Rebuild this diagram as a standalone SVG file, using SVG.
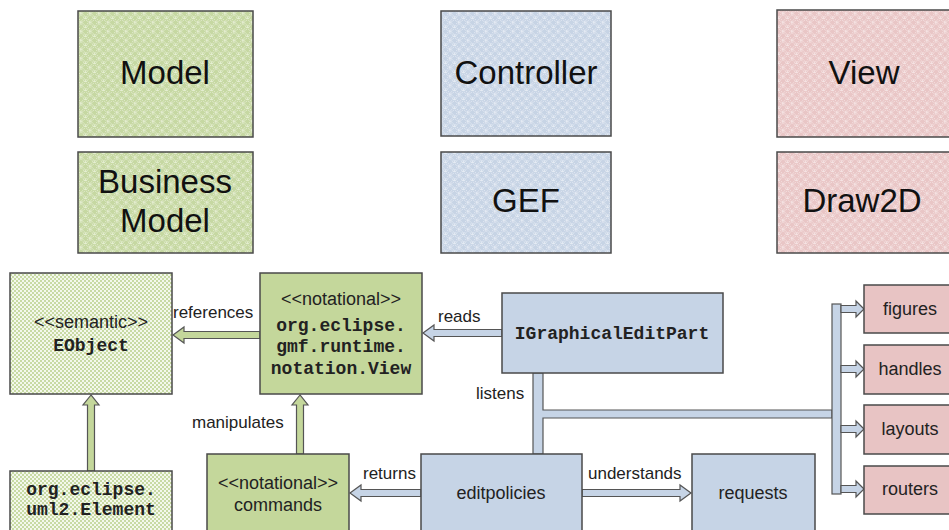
<svg xmlns="http://www.w3.org/2000/svg" width="949" height="530" viewBox="0 0 949 530">
  <defs>
    <!-- lattice fills for the layer boxes -->
    <pattern id="latGreen" width="9" height="9" patternUnits="userSpaceOnUse">
      <rect width="9" height="9" fill="#c6d8a2"/>
      <g fill="none" stroke="#eef4e2" stroke-width="0.9" stroke-dasharray="1 1">
        <circle cx="4.5" cy="4.5" r="4.2"/>
        <circle cx="0" cy="0" r="4.2"/>
        <circle cx="9" cy="0" r="4.2"/>
        <circle cx="0" cy="9" r="4.2"/>
        <circle cx="9" cy="9" r="4.2"/>
      </g>
    </pattern>
    <pattern id="latBlue" width="9" height="9" patternUnits="userSpaceOnUse">
      <rect width="9" height="9" fill="#c7d4e5"/>
      <g fill="none" stroke="#eef2f8" stroke-width="0.9" stroke-dasharray="1 1">
        <circle cx="4.5" cy="4.5" r="4.2"/>
        <circle cx="0" cy="0" r="4.2"/>
        <circle cx="9" cy="0" r="4.2"/>
        <circle cx="0" cy="9" r="4.2"/>
        <circle cx="9" cy="9" r="4.2"/>
      </g>
    </pattern>
    <pattern id="latPink" width="9" height="9" patternUnits="userSpaceOnUse">
      <rect width="9" height="9" fill="#e9c6c6"/>
      <g fill="none" stroke="#f8ecec" stroke-width="0.9" stroke-dasharray="1 1">
        <circle cx="4.5" cy="4.5" r="4.2"/>
        <circle cx="0" cy="0" r="4.2"/>
        <circle cx="9" cy="0" r="4.2"/>
        <circle cx="0" cy="9" r="4.2"/>
        <circle cx="9" cy="9" r="4.2"/>
      </g>
    </pattern>
    <!-- fine checker for semantic model boxes -->
    <pattern id="checkGreen" width="4" height="4" patternUnits="userSpaceOnUse">
      <rect width="4" height="4" fill="#f4f8ec"/>
      <rect width="2" height="2" fill="#c8daa4"/>
      <rect x="2" y="2" width="2" height="2" fill="#c8daa4"/>
    </pattern>
    <style>
      .box { stroke: #4a4a4a; stroke-width: 1.5; }
      .lg { fill: url(#latGreen); }
      .lb { fill: url(#latBlue); }
      .lp { fill: url(#latPink); }
      .ck { fill: url(#checkGreen); }
      .g { fill: #c4d79b; }
      .b { fill: #c6d4e6; }
      .p { fill: #e8c4c4; }
      .big { font-family: "Liberation Sans", Arial, sans-serif; font-size: 33px; fill: #111; text-anchor: middle; }
      .txt { font-family: "Liberation Sans", Arial, sans-serif; font-size: 18px; fill: #222; text-anchor: middle; }
      .mono { font-family: "Liberation Mono", "Courier New", monospace; font-size: 18px; font-weight: bold; fill: #222; text-anchor: middle; }
      .lbl { font-family: "Liberation Sans", Arial, sans-serif; font-size: 17px; fill: #222; }
      .ag { fill: #c4d79b; stroke: #555; stroke-width: 1.2; stroke-linejoin: miter; }
      .ab { fill: #c6d4e6; stroke: #555; stroke-width: 1.2; stroke-linejoin: miter; }
    </style>
  </defs>

  <rect width="949" height="530" fill="#ffffff"/>

  <!-- layer headers -->
  <g id="model">
    <rect class="box lg" x="78" y="11" width="175" height="126"/>
    <text class="big" x="165" y="84">Model</text>
  </g>
  <g id="business-model">
    <rect class="box lg" x="78" y="152" width="175" height="101"/>
    <text class="big" x="165" y="193">Business</text>
    <text class="big" x="165" y="232">Model</text>
  </g>
  <g id="controller">
    <rect class="box lb" x="441" y="11" width="170" height="125"/>
    <text class="big" x="526" y="84">Controller</text>
  </g>
  <g id="gef">
    <rect class="box lb" x="441" y="152" width="170" height="101"/>
    <text class="big" x="526" y="212">GEF</text>
  </g>
  <g id="view">
    <rect class="box lp" x="777" y="10" width="180" height="127"/>
    <text class="big" x="864" y="84">View</text>
  </g>
  <g id="draw2d">
    <rect class="box lp" x="777" y="152" width="180" height="101"/>
    <text class="big" x="862" y="212">Draw2D</text>
  </g>

  <!-- connectors -->
  <g id="connectors">
    <!-- references -->
    <polygon class="ag" points="173,335 184,327 184,331.5 260,331.5 260,338.5 184,338.5 184,343"/>
    <!-- generalization uml2.Element -> EObject -->
    <polygon class="ag" points="91,395 83,405 87.5,405 87.5,471 94.5,471 94.5,405 99,405"/>
    <!-- manipulates -->
    <polygon class="ag" points="300,395 292,405 296.5,405 296.5,454 303.5,454 303.5,405 308,405"/>
    <!-- reads -->
    <polygon class="ab" points="423,333 434,325 434,329.5 502,329.5 502,336.5 434,336.5 434,341"/>
    <!-- returns -->
    <polygon class="ab" points="350,493 361,485 361,489.5 421,489.5 421,496.5 361,496.5 361,501"/>
    <!-- understands -->
    <polygon class="ab" points="691,493 680,485 680,489.5 582,489.5 582,496.5 680,496.5 680,501"/>
    <!-- listens + bus to draw2d parts -->
    <path class="ab" d="M533,373 H543 V410 H832 V418 H543 V454 H533 Z"/>
    <rect class="ab" x="832" y="304" width="9" height="190"/>
    <polygon class="ab" points="864,309 856,301 856,305.5 841,305.5 841,312.5 856,312.5 856,317"/>
    <polygon class="ab" points="864,369 856,361 856,365.5 841,365.5 841,372.5 856,372.5 856,377"/>
    <polygon class="ab" points="864,429 856,421 856,425.5 841,425.5 841,432.5 856,432.5 856,437"/>
    <polygon class="ab" points="864,489 856,481 856,485.5 841,485.5 841,492.5 856,492.5 856,497"/>
    <text class="lbl" x="173" y="318">references</text>
    <text class="lbl" x="438" y="322">reads</text>
    <text class="lbl" x="476" y="399">listens</text>
    <text class="lbl" x="192" y="428">manipulates</text>
    <text class="lbl" x="363" y="479">returns</text>
    <text class="lbl" x="588" y="479">understands</text>
  </g>

  <!-- detail nodes -->
  <g id="eobject">
    <rect class="box ck" x="10" y="273" width="162" height="121"/>
    <text class="txt" x="91" y="328">&lt;&lt;semantic&gt;&gt;</text>
    <text class="mono" x="91" y="351">EObject</text>
  </g>
  <g id="uml2-element">
    <rect class="box ck" x="10" y="471" width="162" height="70"/>
    <text class="mono" x="91" y="495">org.eclipse.</text>
    <text class="mono" x="91" y="515">uml2.Element</text>
  </g>
  <g id="notation-view">
    <rect class="box g" x="260" y="273" width="162" height="121"/>
    <text class="txt" x="341" y="305">&lt;&lt;notational&gt;&gt;</text>
    <text class="mono" x="341" y="331">org.eclipse.</text>
    <text class="mono" x="341" y="352">gmf.runtime.</text>
    <text class="mono" x="341" y="374">notation.View</text>
  </g>
  <g id="commands">
    <rect class="box g" x="207" y="454" width="142" height="90"/>
    <text class="txt" x="278" y="489">&lt;&lt;notational&gt;&gt;</text>
    <text class="txt" x="278" y="511">commands</text>
  </g>
  <g id="igraphical-edit-part">
    <rect class="box b" x="502" y="293" width="221" height="80"/>
    <text class="mono" x="612" y="339">IGraphicalEditPart</text>
  </g>
  <g id="editpolicies">
    <rect class="box b" x="421" y="454" width="161" height="90"/>
    <text class="txt" x="501" y="499">editpolicies</text>
  </g>
  <g id="requests">
    <rect class="box b" x="692" y="454" width="123" height="90"/>
    <text class="txt" x="753" y="499">requests</text>
  </g>
  <g id="figures">
    <rect class="box p" x="864" y="285" width="92" height="48"/>
    <text class="txt" x="910" y="315">figures</text>
  </g>
  <g id="handles">
    <rect class="box p" x="864" y="345" width="92" height="49"/>
    <text class="txt" x="910" y="375">handles</text>
  </g>
  <g id="layouts">
    <rect class="box p" x="864" y="405" width="92" height="49"/>
    <text class="txt" x="910" y="435">layouts</text>
  </g>
  <g id="routers">
    <rect class="box p" x="864" y="466" width="92" height="48"/>
    <text class="txt" x="910" y="495">routers</text>
  </g>
</svg>
